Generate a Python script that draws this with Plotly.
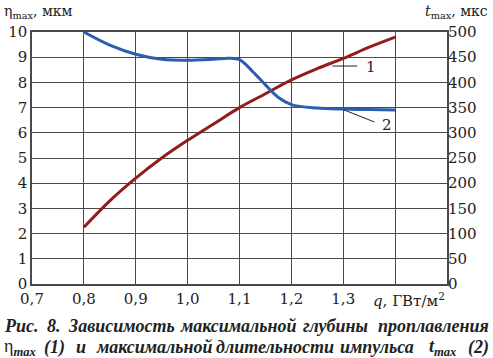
import plotly.graph_objects as go

# Data
q_eta = [0.8, 0.85, 0.9, 0.95, 1.0, 1.05, 1.1, 1.15, 1.2, 1.25, 1.3, 1.35, 1.4]
eta_max = [2.25, 3.3, 4.2, 5.0, 5.7, 6.35, 7.0, 7.55, 8.1, 8.55, 8.95, 9.4, 9.8]

q_t = [0.8, 0.85, 0.9, 0.95, 1.0, 1.05, 1.08, 1.1, 1.125, 1.15, 1.175, 1.2, 1.25, 1.3, 1.35, 1.4]
t_max = [500, 474, 456, 446, 444, 446, 448, 445, 422, 395, 370, 356, 349, 347, 346, 345]

x_ticks = [0.7, 0.8, 0.9, 1.0, 1.1, 1.2, 1.3, 1.4, 1.5]
x_ticktext = ["0,7", "0,8", "0,9", "1,0", "1,1", "1,2", "1,3", " ", " "]
y_ticks = list(range(0, 11))
y2_ticks = list(range(0, 501, 50))

SERIF = "DejaVu Serif"
CAP = "Liberation Serif"
GRID = "#4a4a4a"
TXT = "#222"

fig = go.Figure()
fig.add_trace(go.Scatter(x=q_eta, y=eta_max, mode="lines", line=dict(color="#921b1b", width=3, shape="spline"),
                         yaxis="y", showlegend=False))
fig.add_trace(go.Scatter(x=q_t, y=t_max, mode="lines", line=dict(color="#2c5eb0", width=3, shape="spline"),
                         yaxis="y2", showlegend=False))

fig.update_layout(
    width=493, height=358, autosize=False,
    margin=dict(l=32, r=46, t=32, b=74),
    paper_bgcolor="white", plot_bgcolor="white",
    font=dict(family=SERIF, size=15, color=TXT),
    xaxis=dict(range=[0.7, 1.5], tickvals=x_ticks, ticktext=x_ticktext, showgrid=True, gridcolor=GRID, gridwidth=1.3,
               showline=True, linecolor=GRID, linewidth=1.5, mirror=True, ticks="", zeroline=False, automargin=False,
               tickfont=dict(family=SERIF, size=15, color=TXT)),
    yaxis=dict(range=[0, 10], tickvals=y_ticks, showgrid=True, gridcolor=GRID, gridwidth=1.3,
               showline=True, linecolor=GRID, linewidth=1.5, mirror=True, ticks="", zeroline=False, automargin=False,
               tickfont=dict(family=SERIF, size=15, color=TXT)),
    yaxis2=dict(range=[0, 500], tickvals=y2_ticks, overlaying="y", side="right", showgrid=False,
                showline=False, ticks="", zeroline=False, automargin=False,
                tickfont=dict(family=SERIF, size=15, color=TXT)),
)

anns = []
# axis titles
anns.append(dict(xref="paper", yref="paper", x=-0.072, y=1.0, yshift=20, xanchor="left", yanchor="middle",
                 text="η<sub>max</sub>, мкм", showarrow=False, font=dict(family=SERIF, size=14, color=TXT)))
anns.append(dict(xref="paper", yref="paper", x=1.103, y=1.0, yshift=20, xanchor="right", yanchor="middle",
                 text="<i>t</i><sub>max</sub>, мкс", showarrow=False, font=dict(family=SERIF, size=14, color=TXT)))
anns.append(dict(xref="x", yref="paper", x=1.5, y=0, yshift=-4, xanchor="right", yanchor="top",
                 text="<i>q</i>, ГВт/м<sup>2</sup>", showarrow=False, font=dict(family=SERIF, size=15, color=TXT)))
# curve labels
anns.append(dict(xref="x", yref="y", x=1.34, y=8.6, xanchor="left", yanchor="middle", text="1",
                 showarrow=False, font=dict(family=SERIF, size=15, color=TXT)))
anns.append(dict(xref="x", yref="y", x=1.37, y=6.3, xanchor="left", yanchor="middle", text="2",
                 showarrow=False, font=dict(family=SERIF, size=15, color=TXT)))

# caption (justified by words): (text, pixel x, anchor)
cap_font = dict(family=CAP, size=18, color=TXT)
line1 = [("<b><i>Рис.</i></b>", 2, "left"), ("<b><i>8.</i></b>", 54, "center"),
         ("<b><i>Зависимость</i></b>", 121, "center"), ("<b><i>максимальной</i></b>", 238, "center"),
         ("<b><i>глубины</i></b>", 335, "center"), ("<b><i>проплавления</i></b>", 491, "right")]
line2 = [("η<sub><b><i>max</i></b></sub>", 2, "left"), ("<b><i>(1)</i></b>", 54, "center"),
         ("<b><i>и</i></b>", 81, "center"), ("<b><i>максимальной</i></b>", 154, "center"),
         ("<b><i>длительности</i></b>", 275, "center"), ("<b><i>импульса</i></b>", 377, "center"),
         ("<b><i>t</i></b><sub><b><i>max</i></b></sub>", 427, "left"), ("<b><i>(2)</i></b>", 491, "right")]
for txt, px, anc in line1:
    anns.append(dict(xref="paper", yref="paper", x=(px - 32) / 415, y=0, yshift=-(326 - 284), xanchor=anc,
                     yanchor="middle", text=txt, showarrow=False, font=cap_font))
for txt, px, anc in line2:
    anns.append(dict(xref="paper", yref="paper", x=(px - 32) / 415, y=0, yshift=-(347 - 284), xanchor=anc,
                     yanchor="middle", text=txt, showarrow=False, font=cap_font))
fig.update_layout(annotations=anns)

fig.add_shape(type="line", xref="x", yref="y", x0=1.279, y0=8.65, x1=1.327, y1=8.65, line=dict(color=TXT, width=1))
fig.add_shape(type="line", xref="x", yref="y", x0=1.30, y0=6.92, x1=1.36, y1=6.43, line=dict(color=TXT, width=1))

fig.write_html("out.html", config={"displayModeBar": False},
               post_script="document.body.style.margin='0';document.body.style.overflow='hidden';")
